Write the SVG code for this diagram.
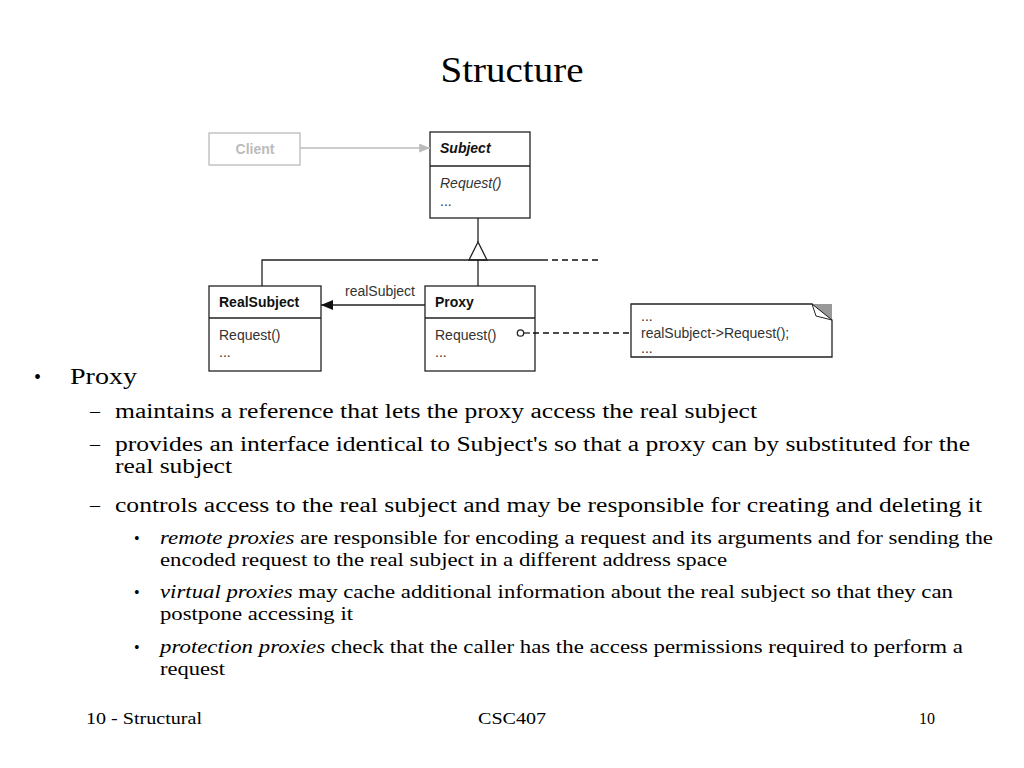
<svg xmlns="http://www.w3.org/2000/svg" width="1024" height="768" viewBox="0 0 1024 768">
<style>
.box{fill:#fff;stroke:#222;stroke-width:1.3}
.ln{fill:none;stroke:#222;stroke-width:1.3}
.dash{fill:none;stroke:#111;stroke-width:1.3;stroke-dasharray:6,4}
.d{font-size:14px;fill:#333}
.b{font-weight:bold;fill:#111}
.i{font-style:italic}
.s{fill:#000}
</style>
<defs>
<marker id="fa" viewBox="0 0 12 10" refX="12" refY="5" markerWidth="12" markerHeight="10" markerUnits="userSpaceOnUse" orient="auto"><path d="M0,0 L12,5 L0,10 z" fill="#111"/></marker>
<marker id="ga" viewBox="0 0 12 10" refX="12" refY="5" markerWidth="13" markerHeight="9" markerUnits="userSpaceOnUse" orient="auto"><path d="M0,0 L12,5 L0,10 z" fill="#bbb"/></marker>
</defs>
<rect width="1024" height="768" fill="#fff"/>
<g font-family="Liberation Serif, Times New Roman, Times, serif">
<text class="s" x="512" y="82" font-size="36" text-anchor="middle" textLength="143" lengthAdjust="spacingAndGlyphs">Structure</text>
</g>

<g font-family="Liberation Sans, Arial, Helvetica, sans-serif">
<g id="client">
<rect x="209" y="133" width="91" height="32" fill="#fff" stroke="#bbb" stroke-width="1.3"/>
<text x="255" y="154" font-size="14" text-anchor="middle" font-weight="bold" fill="#bbb">Client</text>
</g>

<g id="subject">
<rect class="box" x="430" y="132" width="100" height="86"/>
<line class="ln" x1="430" y1="166" x2="530" y2="166"/>
<text class="d b i" x="440" y="153">Subject</text>
<text class="d i" x="440" y="188">Request()</text>
<text class="d" x="440" y="206">...</text>
</g>

<g id="realsubject">
<rect class="box" x="209" y="286" width="112" height="85"/>
<line class="ln" x1="209" y1="318" x2="321" y2="318"/>
<text class="d b" x="219" y="307">RealSubject</text>
<text class="d" x="219" y="340">Request()</text>
<text class="d" x="219" y="357">...</text>
</g>

<g id="proxy">
<rect class="box" x="425" y="286" width="110" height="85"/>
<line class="ln" x1="425" y1="318" x2="535" y2="318"/>
<text class="d b" x="435" y="307">Proxy</text>
<text class="d" x="435" y="340">Request()</text>
<text class="d" x="435" y="357">...</text>
</g>

<g id="note">
<path d="M631,304 L812,304 L832,320 L832,357 L631,357 z" fill="#fff" stroke="#222" stroke-width="1.3"/>
<path d="M812,304 L832,304 L832,320 z" fill="#999"/>
<path d="M812,304 L832,320 L816,316 z" fill="#fff" stroke="#222" stroke-width="1"/>
<text class="d" x="641" y="321">...</text>
<text class="d" x="641" y="338">realSubject-&gt;Request();</text>
<text class="d" x="641" y="353">...</text>
</g>

<g id="connectors">
<line x1="300" y1="148" x2="430" y2="148" stroke="#bbb" stroke-width="1.3" marker-end="url(#ga)"/>
<line class="ln" x1="478" y1="218" x2="478" y2="242"/>
<path d="M478,242 L469,260 L487,260 z" fill="#fff" stroke="#222" stroke-width="1.3"/>
<polyline class="ln" points="262,286 262,260 548,260"/>
<line class="dash" x1="552" y1="260" x2="600" y2="260"/>
<line class="ln" x1="478" y1="260" x2="478" y2="286"/>
<line class="ln" x1="425" y1="305" x2="321" y2="305" marker-end="url(#fa)"/>
<text class="d" x="380" y="296" text-anchor="middle">realSubject</text>
<line class="ln" x1="524" y1="333" x2="530" y2="333"/>
<line class="dash" x1="533" y1="333" x2="631" y2="333"/>
<circle cx="520.5" cy="333" r="3.2" fill="#fff" stroke="#222" stroke-width="1.3"/>
</g>
</g>

<g font-family="Liberation Serif, Times New Roman, Times, serif">
<g id="bullets">
<text class="s" x="34" y="384" font-size="20">•</text>
<text class="s" x="70" y="384" font-size="24" textLength="67" lengthAdjust="spacingAndGlyphs">Proxy</text>
<text class="s" x="90" y="418" font-size="20">–</text>
<text class="s" x="115" y="418" font-size="20.5" textLength="642" lengthAdjust="spacingAndGlyphs">maintains a reference that lets the proxy access the real subject</text>
<text class="s" x="90" y="451" font-size="20">–</text>
<text class="s" x="115" y="451" font-size="20.5" textLength="855" lengthAdjust="spacingAndGlyphs">provides an interface identical to Subject's so that a proxy can by substituted for the</text>
<text class="s" x="115" y="473" font-size="20.5" textLength="117" lengthAdjust="spacingAndGlyphs">real subject</text>
<text class="s" x="90" y="512" font-size="20">–</text>
<text class="s" x="115" y="512" font-size="20.5" textLength="867" lengthAdjust="spacingAndGlyphs">controls access to the real subject and may be responsible for creating and deleting it</text>

<text class="s" x="134" y="544" font-size="16">•</text>
<text class="s" x="160" y="544" font-size="18" textLength="833" lengthAdjust="spacingAndGlyphs"><tspan font-style="italic">remote proxies</tspan> are responsible for encoding a request and its arguments and for sending the</text>
<text class="s" x="160" y="566" font-size="18" textLength="567" lengthAdjust="spacingAndGlyphs">encoded request to the real subject in a different address space</text>
<text class="s" x="134" y="598" font-size="16">•</text>
<text class="s" x="160" y="598" font-size="18" textLength="793" lengthAdjust="spacingAndGlyphs"><tspan font-style="italic">virtual proxies</tspan> may cache additional information about the real subject so that they can</text>
<text class="s" x="160" y="620" font-size="18" textLength="193" lengthAdjust="spacingAndGlyphs">postpone accessing it</text>
<text class="s" x="134" y="653" font-size="16">•</text>
<text class="s" x="160" y="653" font-size="18" textLength="803" lengthAdjust="spacingAndGlyphs"><tspan font-style="italic">protection proxies</tspan> check that the caller has the access permissions required to perform a</text>
<text class="s" x="160" y="675" font-size="18" textLength="65" lengthAdjust="spacingAndGlyphs">request</text>
</g>

<g id="footer">
<text class="s" x="86" y="724" font-size="16" textLength="116" lengthAdjust="spacingAndGlyphs">10 - Structural</text>
<text class="s" x="512" y="724" font-size="16" text-anchor="middle" textLength="68" lengthAdjust="spacingAndGlyphs">CSC407</text>
<text class="s" x="935" y="724" font-size="16" text-anchor="end">10</text>
</g>
</g>
</svg>
